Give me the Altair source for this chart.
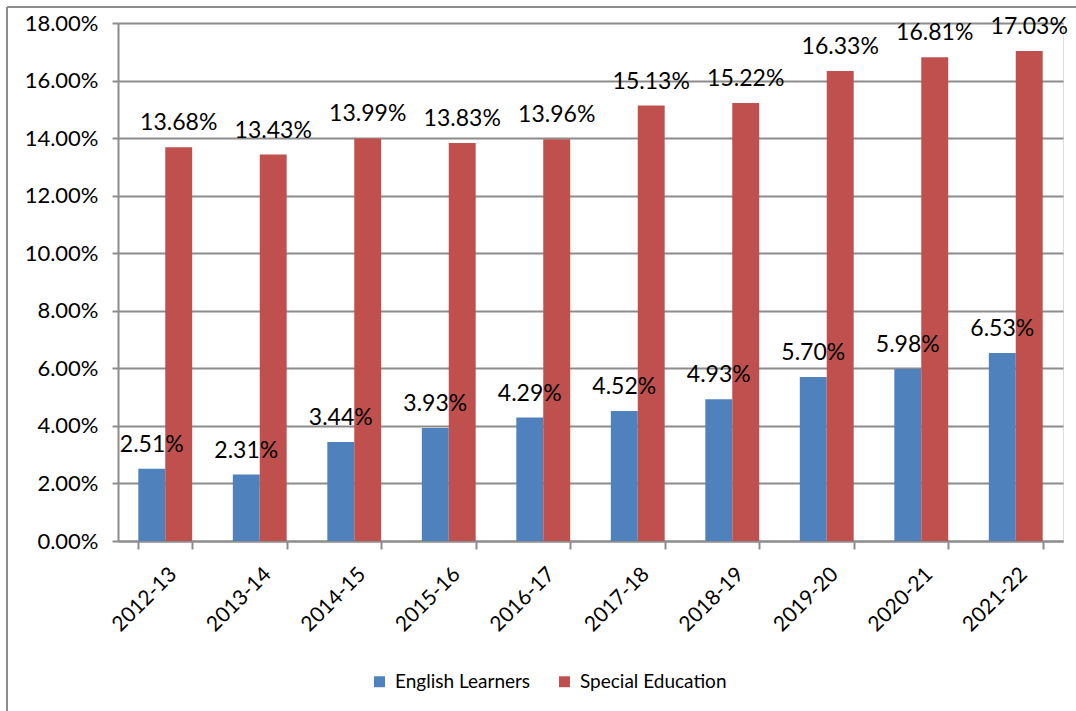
import altair as alt
import pandas as pd

years = ["2012-13", "2013-14", "2014-15", "2015-16", "2016-17",
         "2017-18", "2018-19", "2019-20", "2020-21", "2021-22"]
english_learners = [0.0251, 0.0231, 0.0344, 0.0393, 0.0429,
                    0.0452, 0.0493, 0.0570, 0.0598, 0.0653]
special_education = [0.1368, 0.1343, 0.1399, 0.1383, 0.1396,
                     0.1513, 0.1522, 0.1633, 0.1681, 0.1703]
series_names = ["English Learners", "Special Education"]
series_colors = ["#4F81BD", "#C0504D"]

rows = []
for i, y in enumerate(years):
    rows.append({"year": y, "series": series_names[0], "value": english_learners[i]})
    rows.append({"year": y, "series": series_names[1], "value": special_education[i]})
df = pd.DataFrame(rows)

FONT = "Lato"
GRID = "#8C8C8C"

x_enc = alt.X("year:N", sort=years,
              scale=alt.Scale(paddingInner=0.43, paddingOuter=0.215),
              axis=alt.Axis(title=None, labelAngle=-45, tickBand="extent",
                            labelFont=FONT, labelFontSize=21, labelColor="#000",
                            labelPadding=14, tickSize=8, tickColor=GRID,
                            domainColor=GRID, domainWidth=2, tickWidth=2,
                            grid=False))
xoff = alt.XOffset("series:N", sort=series_names,
                   scale=alt.Scale(paddingInner=0, paddingOuter=0))
y_enc = alt.Y("value:Q",
              scale=alt.Scale(domain=[0, 0.18]),
              axis=alt.Axis(title=None, format=".2%", values=[i / 100 for i in range(0, 19, 2)],
                            labelFont=FONT, labelFontSize=22, labelColor="#000",
                            labelPadding=14, tickSize=6, tickColor=GRID, tickWidth=2,
                            domainColor=GRID, domainWidth=2,
                            gridColor=GRID, gridWidth=2))

bars = alt.Chart(df).mark_bar().encode(
    x=x_enc, xOffset=xoff, y=y_enc,
    color=alt.Color("series:N", sort=series_names,
                    scale=alt.Scale(domain=series_names, range=series_colors),
                    legend=alt.Legend(title=None, orient="none", direction="horizontal",
                                      legendX=252, legendY=649, padding=0,
                                      symbolType="square", symbolSize=120,
                                      symbolStrokeWidth=0, labelFont=FONT,
                                      labelFontSize=19, labelColor="#000",
                                      labelOffset=6, columnPadding=24)),
)

labels = alt.Chart(df).mark_text(font=FONT, fontSize=23, color="#000",
                                 baseline="alphabetic", dy=-17).encode(
    x=alt.X("year:N", sort=years), xOffset=xoff, y="value:Q",
    text=alt.Text("value:Q", format=".2%"),
)

frame_df = pd.DataFrame({"k": [0]})
left_border = alt.Chart(frame_df).mark_rule(color=GRID, strokeWidth=2).encode(
    x=alt.value(-111), y=alt.value(-16), y2=alt.value(700))
top_border = alt.Chart(frame_df).mark_rule(color=GRID, strokeWidth=2).encode(
    y=alt.value(-16), x=alt.value(-111), x2=alt.value(970))

chart = alt.layer(bars, labels, left_border, top_border).properties(
    width=945, height=518, autosize="none",
    padding={"left": 118, "top": 23, "right": 13, "bottom": 170},
).configure_view(stroke=None).configure(background="white")

chart.save("out.html", embed_options={"renderer": "svg", "actions": False})
